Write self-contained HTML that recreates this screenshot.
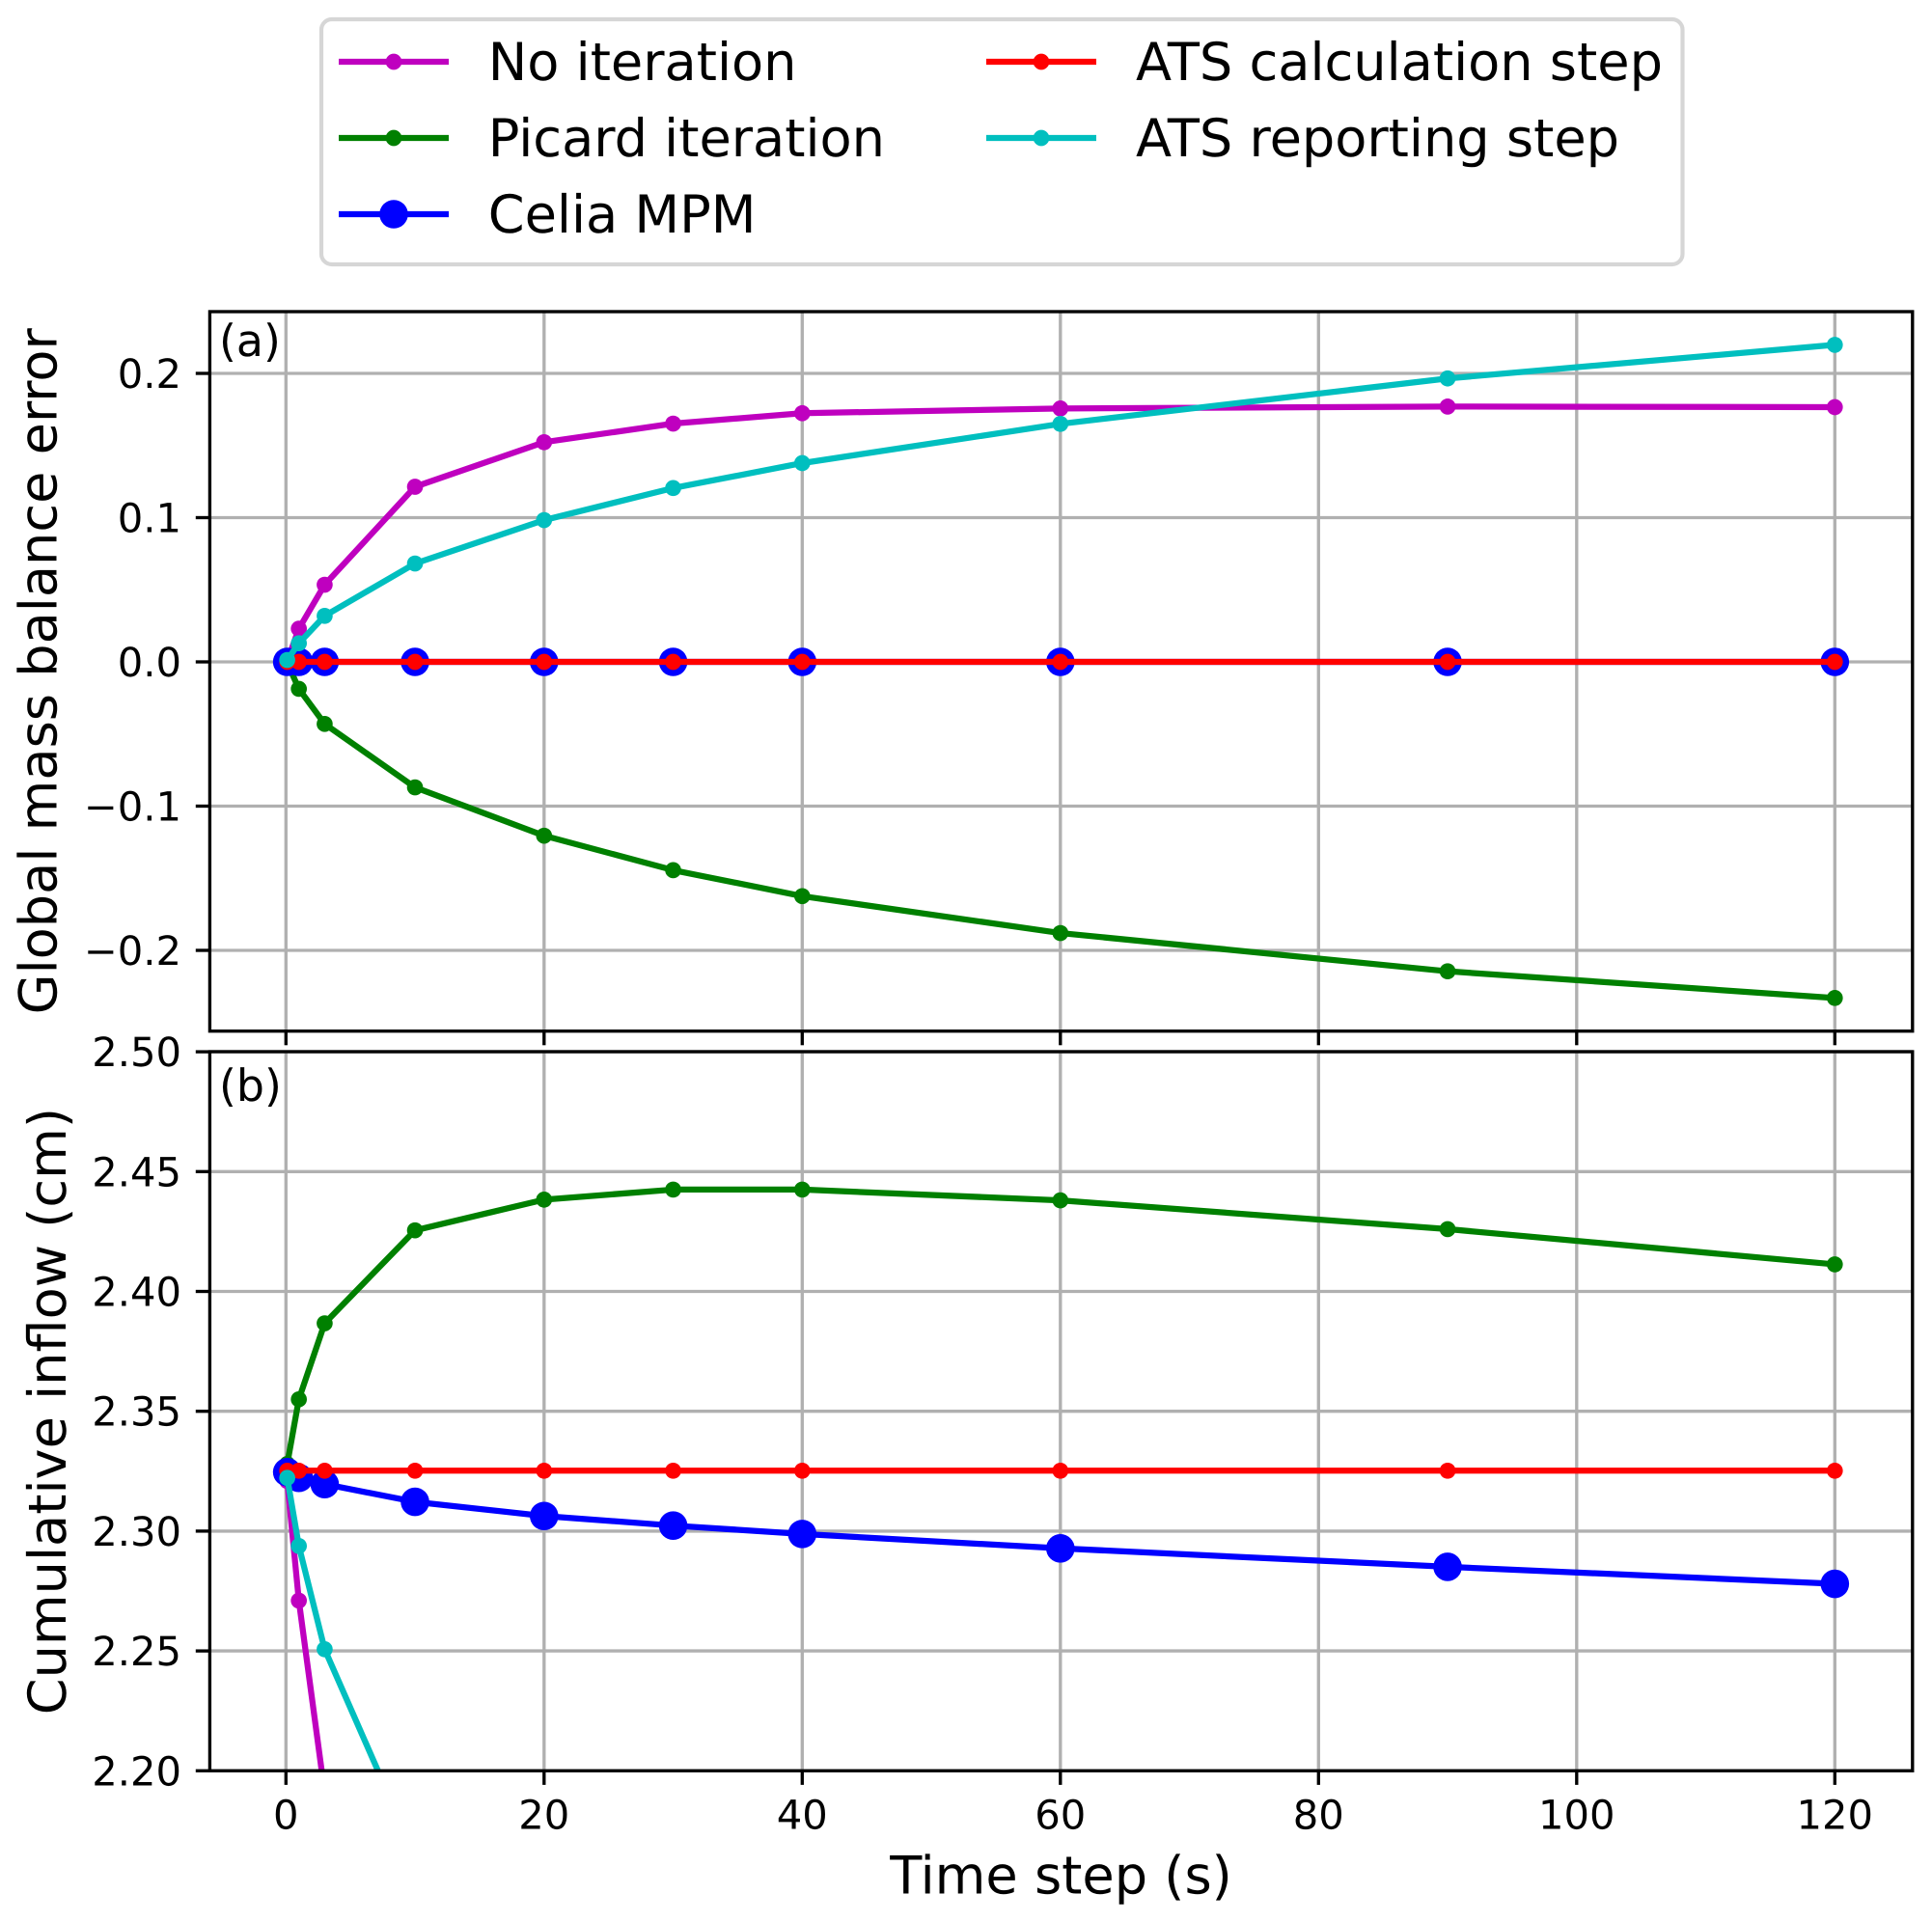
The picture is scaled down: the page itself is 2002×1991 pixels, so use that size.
<!DOCTYPE html>
<html lang="en">
<head>
<meta charset="utf-8">
<title>Global mass balance error and cumulative inflow</title>
<style>
html,body{margin:0;padding:0;background:#fff;width:2002px;height:1991px;overflow:hidden}
svg{display:block}
text{font-family:"DejaVu Sans","Liberation Sans",sans-serif;fill:#000;text-rendering:geometricPrecision}
</style>
</head>
<body>
<svg id="chart" xmlns="http://www.w3.org/2000/svg" width="2002" height="1991" viewBox="0 0 2002 1991">
  <rect x="0" y="0" width="2002" height="1991" fill="#fff"/>
  <defs>
    <clipPath id="clip-a"><rect x="217.4" y="323" width="1764.4" height="745.7"/></clipPath>
    <clipPath id="clip-b"><rect x="217.4" y="1090" width="1764.4" height="745.3"/></clipPath>
  </defs>
  <g id="panel-a"></g>
  <g id="panel-b"></g>

  <text transform="translate(58.7,695.8) rotate(-90)" text-anchor="middle" font-size="54.17">Global mass balance error</text>
  <text transform="translate(68,1462.6) rotate(-90)" text-anchor="middle" font-size="54.17">Cumulative inflow (cm)</text>
  <text x="1099.5" y="1962.7" text-anchor="middle" font-size="54.17">Time step (s)</text>

  <g>
    <rect x="333" y="20" width="1410.5" height="254" rx="10.8" ry="10.8" fill="#fff" stroke="#d6d6d6" stroke-width="4.17"/>
    <g>
      <line x1="351" y1="64" x2="465" y2="64" stroke="#bf00bf" stroke-width="6.25"/>
      <circle cx="408" cy="64" r="8.33" fill="#bf00bf"/>
      <text x="505.8" y="83" font-size="54.17">No iteration</text>
    </g>
    <g>
      <line x1="351" y1="143" x2="465" y2="143" stroke="#008000" stroke-width="6.25"/>
      <circle cx="408" cy="143" r="8.33" fill="#008000"/>
      <text x="505.8" y="162" font-size="54.17">Picard iteration</text>
    </g>
    <g>
      <line x1="351" y1="222" x2="465" y2="222" stroke="#0000ff" stroke-width="6.25"/>
      <circle cx="408" cy="222" r="14.8" fill="#0000ff"/>
      <text x="505.8" y="241" font-size="54.17">Celia MPM</text>
    </g>
    <g>
      <line x1="1022" y1="64" x2="1136" y2="64" stroke="#ff0000" stroke-width="6.25"/>
      <circle cx="1079" cy="64" r="8.33" fill="#ff0000"/>
      <text x="1177" y="83" font-size="54.17">ATS calculation step</text>
    </g>
    <g>
      <line x1="1022" y1="143" x2="1136" y2="143" stroke="#00bfbf" stroke-width="6.25"/>
      <circle cx="1079" cy="143" r="8.33" fill="#00bfbf"/>
      <text x="1177" y="162" font-size="54.17">ATS reporting step</text>
    </g>
  </g>
</svg>
<script>
// Shared x data
const timeSteps = [0.1, 1, 3, 10, 20, 30, 40, 60, 90, 120];
const xTicks = [0, 20, 40, 60, 80, 100, 120];
const xTickLabels = ['0', '20', '40', '60', '80', '100', '120'];

// Panel (a): global mass balance error
const errTicks = [-0.2, -0.1, 0, 0.1, 0.2];
const errTickLabels = ['\u22120.2', '\u22120.1', '0.0', '0.1', '0.2'];
const errNoIteration = [0.0005, 0.023, 0.0535, 0.1214, 0.1523, 0.1652, 0.1724, 0.1757, 0.177, 0.1766];
const errPicard = [-0.0005, -0.0187, -0.043, -0.087, -0.1205, -0.1444, -0.1624, -0.188, -0.2145, -0.233];
const errCelia = [0, 0, 0, 0, 0, 0, 0, 0, 0, 0];
const errAtsCalc = [0, 0, 0, 0, 0, 0, 0, 0, 0, 0];
const errAtsReport = [0.0013, 0.0129, 0.0319, 0.0682, 0.0983, 0.1205, 0.1378, 0.165, 0.1965, 0.2198];

// Panel (b): cumulative inflow. The two clipped series leave the axis below 2.20,
// so only the points up to the first off-axis estimate are kept.
const inflowTicks = [2.2, 2.25, 2.3, 2.35, 2.4, 2.45, 2.5];
const inflowTickLabels = ['2.20', '2.25', '2.30', '2.35', '2.40', '2.45', '2.50'];
const inflowNoIteration = [2.3209, 2.271, 2.1908];
const inflowPicard = [2.328, 2.355, 2.3867, 2.4255, 2.4383, 2.4425, 2.4425, 2.438, 2.426, 2.4113];
const inflowCelia = [2.3246, 2.3222, 2.3196, 2.3122, 2.3063, 2.3023, 2.2988, 2.2928, 2.2851, 2.278];
const inflowAtsCalc = [2.3252, 2.3252, 2.3252, 2.3252, 2.3252, 2.3252, 2.3252, 2.3252, 2.3252, 2.3252];
const inflowAtsReport = [2.3222, 2.2938, 2.2507, 2.1648];

const SVG_NS = 'http://www.w3.org/2000/svg';
const plotLeft = 217.4, plotRight = 1981.8;

function xScale(v) { return 296.3 + v * 13.375; }
function yScaleErr(v) { return 686 - v * 1495; }
function yScaleInflow(v) { return 1835.3 - (v - 2.2) * 2484; }

function make(tag, attrs, parent) {
  const el = document.createElementNS(SVG_NS, tag);
  for (const k in attrs) el.setAttribute(k, attrs[k]);
  parent.appendChild(el);
  return el;
}

function drawPanel(panelId, clipId, top, bottom, yScale, yTicks, yLabels, showXLabels, letter, letterY, series) {
  const g = document.getElementById(panelId);

  // grid
  xTicks.forEach(function (t) {
    const el = make('line', { x1: xScale(t), x2: xScale(t), y1: top, y2: bottom, stroke: '#b0b0b0', 'stroke-width': 3.33 }, g);
    
    
  });
  yTicks.forEach(function (t) {
    const el = make('line', { x1: plotLeft, x2: plotRight, y1: yScale(t), y2: yScale(t), stroke: '#b0b0b0', 'stroke-width': 3.33 }, g);
    
    
  });

  // series
  series.forEach(function (s) {
    const sg = make('g', { 'clip-path': 'url(#' + clipId + ')' }, g);
    
    
    const pts = s.values.map(function (v, i) { return xScale(timeSteps[i]) + ',' + yScale(v); }).join(' ');
    const line = make('polyline', { points: pts, fill: 'none', stroke: s.color, 'stroke-width': 6.25, 'stroke-linejoin': 'round' }, sg);
    
    
    s.values.forEach(function (v, i) {
      const c = make('circle', { cx: xScale(timeSteps[i]), cy: yScale(v), r: s.r, fill: s.color }, sg);
      
      
    });
  });

  // frame
  const frame = make('rect', { x: plotLeft, y: top, width: plotRight - plotLeft, height: bottom - top, fill: 'none', stroke: '#000', 'stroke-width': 3.33 }, g);
  
  

  // x ticks
  xTicks.forEach(function (t, i) {
    const tick = make('line', { x1: xScale(t), x2: xScale(t), y1: bottom, y2: bottom + 14.6, stroke: '#000', 'stroke-width': 3.33 }, g);
    
    
    if (showXLabels) {
      const lab = make('text', { x: xScale(t), y: bottom + 60.4, 'text-anchor': 'middle', 'font-size': 41.67 }, g);
      lab.textContent = xTickLabels[i];
      
      
    }
  });

  // y ticks
  yTicks.forEach(function (t, i) {
    const tick = make('line', { x1: plotLeft, x2: plotLeft - 14.6, y1: yScale(t), y2: yScale(t), stroke: '#000', 'stroke-width': 3.33 }, g);
    
    
    const lab = make('text', { x: 188, y: yScale(t) + 15, 'text-anchor': 'end', 'font-size': 41.67 }, g);
    lab.textContent = yLabels[i];
    
    
  });

  const tag = make('text', { x: 227, y: letterY, 'font-size': 45.83 }, g);
  tag.textContent = letter;
  
  
}

drawPanel('panel-a', 'clip-a', 323, 1068.7, yScaleErr, errTicks, errTickLabels, false, '(a)', 368.8, [
  { name: 'no-iteration', color: '#bf00bf', r: 8.33, values: errNoIteration },
  { name: 'picard-iteration', color: '#008000', r: 8.33, values: errPicard },
  { name: 'celia-mpm', color: '#0000ff', r: 14.8, values: errCelia },
  { name: 'ats-calculation-step', color: '#ff0000', r: 8.33, values: errAtsCalc },
  { name: 'ats-reporting-step', color: '#00bfbf', r: 8.33, values: errAtsReport }
]);

drawPanel('panel-b', 'clip-b', 1090, 1835.3, yScaleInflow, inflowTicks, inflowTickLabels, true, '(b)', 1140.8, [
  { name: 'no-iteration', color: '#bf00bf', r: 8.33, values: inflowNoIteration },
  { name: 'picard-iteration', color: '#008000', r: 8.33, values: inflowPicard },
  { name: 'celia-mpm', color: '#0000ff', r: 14.8, values: inflowCelia },
  { name: 'ats-calculation-step', color: '#ff0000', r: 8.33, values: inflowAtsCalc },
  { name: 'ats-reporting-step', color: '#00bfbf', r: 8.33, values: inflowAtsReport }
]);
</script>
</body>
</html>
